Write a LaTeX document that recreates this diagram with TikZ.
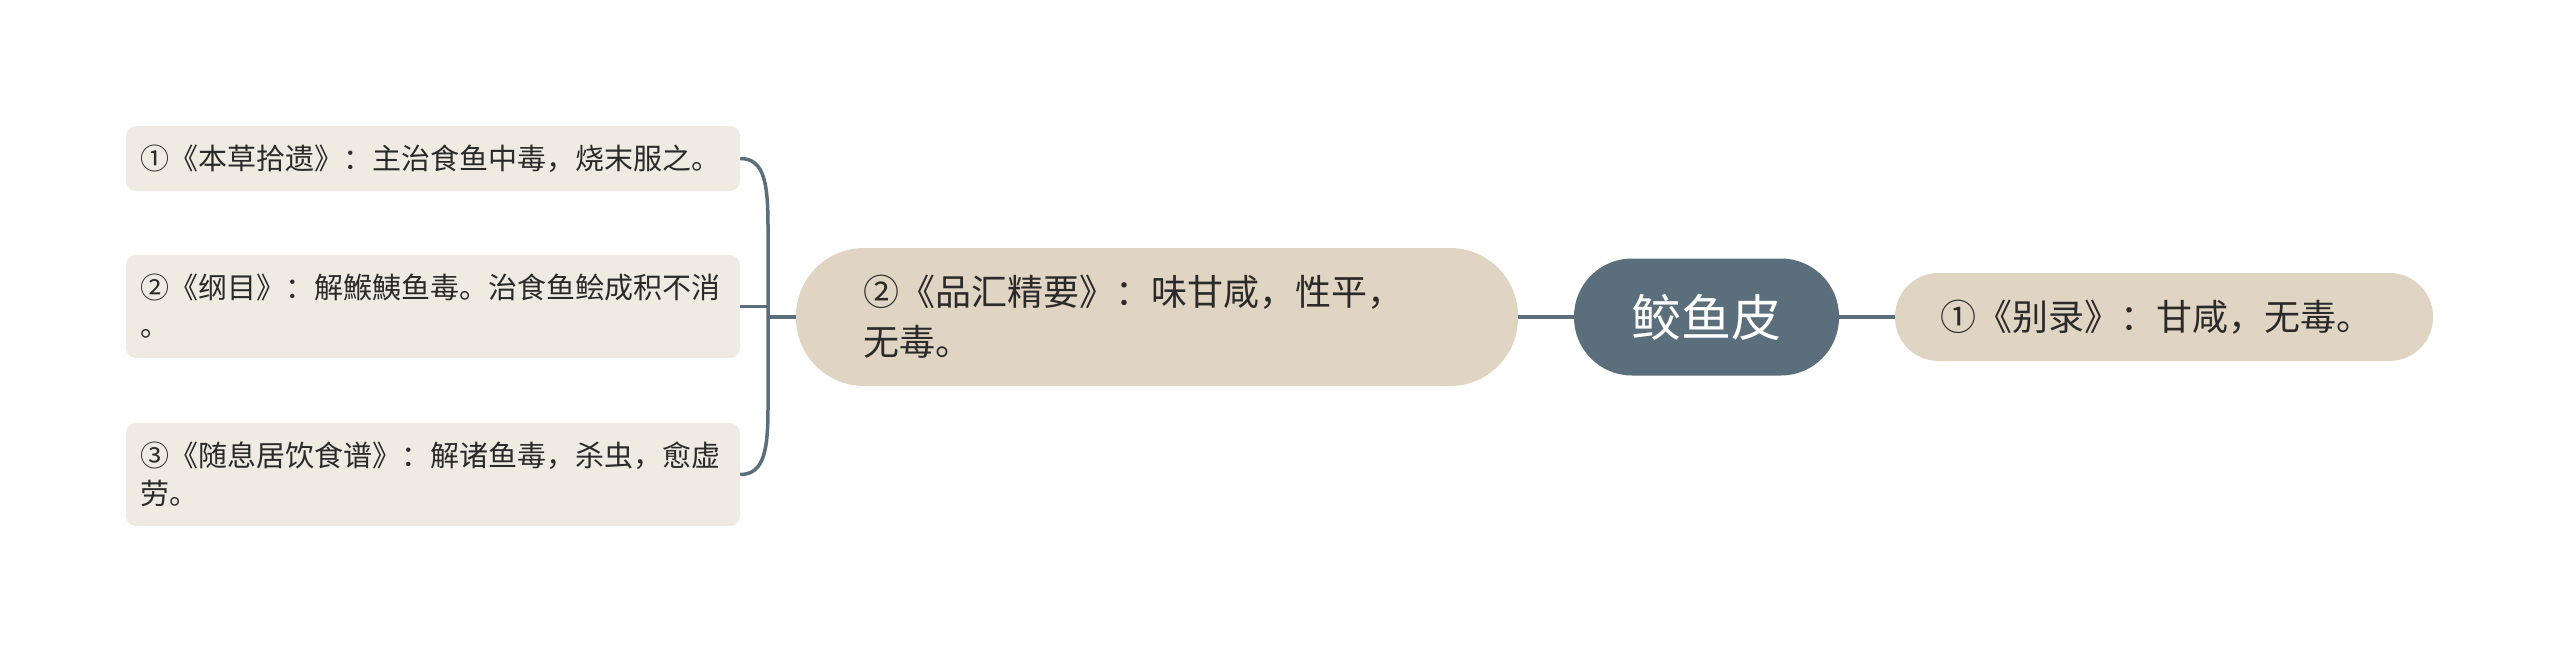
\documentclass[tikz,border=0pt]{standalone}
\usepackage{fontspec}
\setmainfont{Noto Sans CJK SC}
\definecolor{leaffill}{HTML}{EFEBE3}
\definecolor{tanfill}{HTML}{E0D4C3}
\definecolor{slate}{HTML}{5B6E7B}
\definecolor{txt}{HTML}{2A2A2A}
\tikzset{
  conn/.style={draw=slate, line width=3.5pt},
  leafbox/.style={rectangle, rounded corners=10pt, fill=leaffill, text=txt,
    text width=586pt, inner xsep=14pt, inner ysep=0pt, align=left,
    font=\fontsize{29}{38}\selectfont},
  midbox/.style={rectangle, fill=tanfill, text=txt, inner ysep=0pt, align=left,
    font=\fontsize{36}{50}\selectfont},
  rootbox/.style={rectangle, fill=slate, text=white, inner sep=0pt,
    font=\fontsize{50}{60}\selectfont}
}
\begin{document}
\begin{tikzpicture}[x=1pt,y=-1pt]
\useasboundingbox (0,0) rectangle (2560,653);
\node[leafbox, minimum height=65pt] (l1) at (433,158.5) {①《本草拾遗》：主治食鱼中毒，烧末服之。};
\node[leafbox, minimum height=103pt] (l2) at (433,306.5) {②《纲目》：解鯸鮧鱼毒。治食鱼鲙成积不消\\。};
\node[leafbox, minimum height=103pt] (l3) at (433,474.5) {③《随息居饮食谱》：解诸鱼毒，杀虫，愈虚\\劳。};
\node[midbox, rounded corners=68pt, text width=588pt, inner xsep=67pt, minimum height=138pt] (mid) at (1157,317) {②《品汇精要》：味甘咸，性平，\\无毒。};
\node[rootbox, rounded corners=58pt, minimum width=265pt, minimum height=117pt] (root) at (1706.5,317) {鲛鱼皮};
\node[midbox, rounded corners=43.5pt, text width=448pt, inner xsep=45pt, minimum height=88pt] (r1) at (2164,317) {①《别录》：甘咸，无毒。};
\coordinate (bx) at (768,317);
\coordinate (bt) at (768,228);
\coordinate (bb) at (768,406);
\draw[conn] (l1.east) .. controls (765,158.5) and (768,185) .. (bt) -- (bb) .. controls (768,448) and (765,474.5) .. (l3.east);
\draw[conn] (l2.east) -- (l2.east -| bx);
\draw[conn] (bx) -- (mid.west);
\draw[conn] (mid.east) -- (root.west);
\draw[conn] (root.east) -- (r1.west);
\end{tikzpicture}
\end{document}
